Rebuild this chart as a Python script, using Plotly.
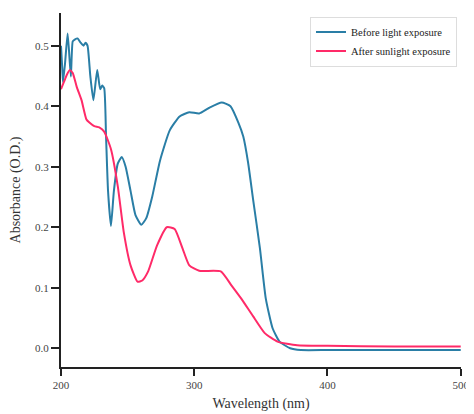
import plotly.graph_objects as go

# Before light exposure (wavelength nm, absorbance)
before_wl = [200, 201, 201.5, 203, 205, 207.4, 208.8, 210.3, 212.5, 214.7, 216.9, 218.4, 219.9,
             222, 224.3, 227.2, 229.4, 230.9, 232.4, 233.8, 235.3, 237.5, 239.7, 242.6, 245.6,
             248.5, 252.2, 255.9, 260.3, 264, 268.4, 274.3, 281.6, 289, 296.3, 303.7, 311,
             320.6, 327.2, 333.1, 336.8, 340.4, 344.1, 349.3, 353.7, 358.8, 364, 372, 380,
             400, 420, 450, 480, 500]
before_abs = [0.50, 0.46, 0.44, 0.47, 0.52, 0.449, 0.507, 0.51, 0.512, 0.505, 0.50, 0.505, 0.50,
              0.45, 0.41, 0.46, 0.428, 0.434, 0.43, 0.35, 0.26, 0.202, 0.26, 0.305, 0.316,
              0.30, 0.26, 0.22, 0.204, 0.215, 0.25, 0.31, 0.36, 0.383, 0.39, 0.388, 0.397,
              0.406, 0.40, 0.373, 0.35, 0.307, 0.247, 0.165, 0.082, 0.033, 0.011, 0.0, -0.003,
              -0.003, -0.003, -0.003, -0.003, -0.003]

# After sunlight exposure
after_wl = [200, 202.2, 204.4, 206.6, 208.8, 211.8, 215.4, 219.1, 221.3, 225, 228.7, 232.4,
            237.5, 242.6, 247.1, 252.2, 257.4, 261, 265.4, 272.1, 279.4, 285.3, 291.2, 296.3,
            303.7, 319.9, 327.9, 335.3, 344.1, 352.9, 362.5, 377.2, 400, 450, 500]
after_abs = [0.428, 0.44, 0.452, 0.46, 0.455, 0.432, 0.41, 0.378, 0.373, 0.367, 0.365, 0.358,
             0.329, 0.268, 0.192, 0.137, 0.11, 0.112, 0.127, 0.17, 0.20, 0.197, 0.165, 0.137,
             0.128, 0.127, 0.104, 0.082, 0.053, 0.025, 0.011, 0.005, 0.004, 0.003, 0.003]

x_ticks = [200, 300, 400, 500]
y_ticks = [0.0, 0.1, 0.2, 0.3, 0.4, 0.5]

FONT = "Liberation Serif"

fig = go.Figure()
fig.add_trace(go.Scatter(x=before_wl, y=before_abs, mode="lines", name="Before light exposure",
                         line=dict(color="#2a7ea6", width=2, shape="spline", smoothing=0.5)))
fig.add_trace(go.Scatter(x=after_wl, y=after_abs, mode="lines", name="After sunlight exposure",
                         line=dict(color="#ff2a68", width=2, shape="spline", smoothing=0.5)))

fig.update_layout(
    width=466, height=406,
    margin=dict(l=51, r=8, t=5, b=45),
    paper_bgcolor="white", plot_bgcolor="white",
    font=dict(family=FONT, size=11, color="#333"),
    showlegend=True,
    legend=dict(x=0.99, y=0.99, xanchor="right", yanchor="top",
                bgcolor="white", bordercolor="#dddddd", borderwidth=1,
                font=dict(family=FONT, size=10.5, color="#222"),
                tracegroupgap=0, itemwidth=30),
    xaxis=dict(range=[200, 500.2], tickvals=x_ticks, ticks="outside", ticklen=7, tickwidth=2,
               tickcolor="#222", showline=True, linecolor="#222", linewidth=2,
               showgrid=False, zeroline=False, ticklabeloverflow="allow",
               title=dict(text="Wavelength (nm)", font=dict(family=FONT, size=14, color="#333"), standoff=8),
               tickfont=dict(family=FONT, size=11, color="#444")),
    yaxis=dict(range=[-0.031, 0.554], tickvals=y_ticks, tickformat=".1f", ticks="outside",
               ticklen=8, tickwidth=2, tickcolor="#222", showline=True, linecolor="#222",
               linewidth=2, showgrid=False, zeroline=False,
               title=dict(text="Absorbance (O.D.)", font=dict(family=FONT, size=14, color="#333"), standoff=12),
               tickfont=dict(family=FONT, size=11, color="#444")),
)

fig.write_html("out.html")
